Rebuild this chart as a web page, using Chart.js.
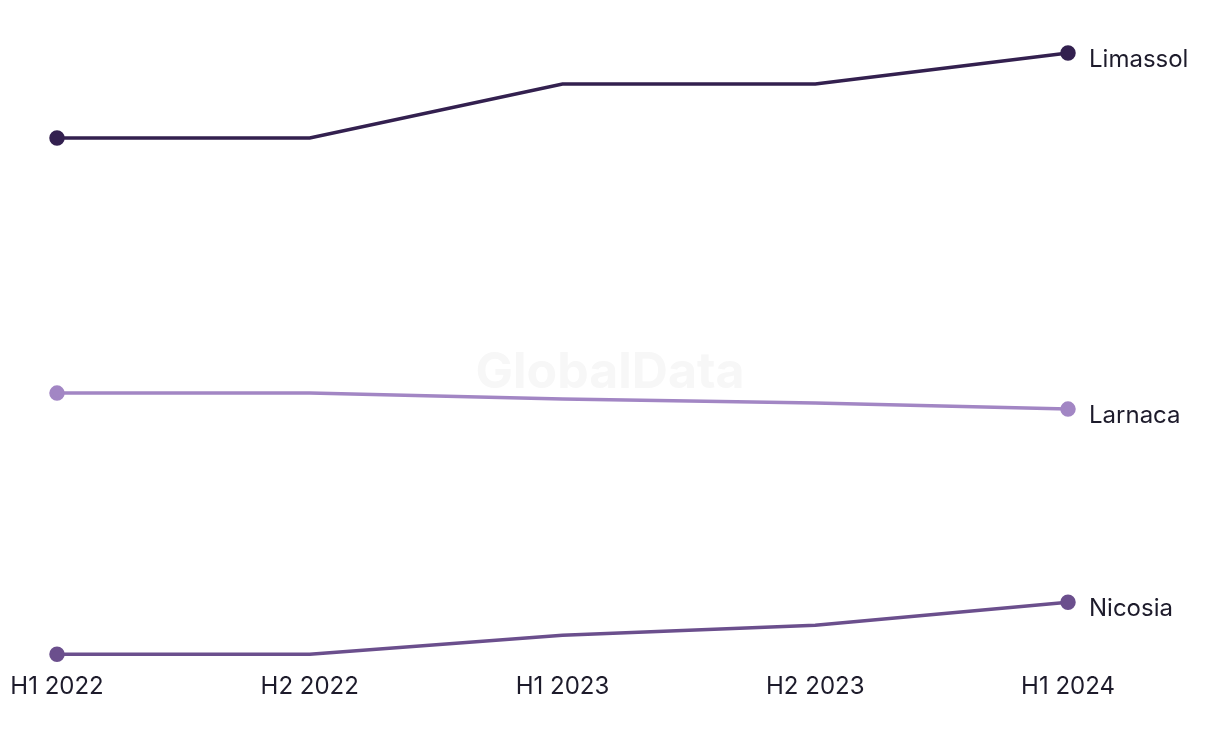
<!DOCTYPE html>
<html lang="en">
  <head>
    <meta charset="UTF-8" />
    <title>Cyprus cities</title>
    <script src="https://cdn.jsdelivr.net/npm/chart.js"></script>
    <style>
      body { margin: 0; background: #fff; }
      #wrap { width: 1220px; height: 744px; }
    </style>
  </head>
  <body>
    <div id="wrap"><canvas id="cityChart" width="1220" height="744"></canvas></div>
    <script>
      // data (index units, axis hidden)
      const periods = ["H1 2022", "H2 2022", "H1 2023", "H2 2023", "H1 2024"];
      const cities = ["Limassol", "Larnaca", "Nicosia"];
      const limassol = [124.4, 124.4, 135.2, 135.2, 141.4];
      const larnaca = [73.4, 73.4, 72.2, 71.4, 70.2];
      const nicosia = [21.2, 21.2, 25.0, 27.0, 31.6];
      const colours = ["#33204f", "#a286c4", "#6b4f8d"];

      const seriesValues = [limassol, larnaca, nicosia];

      // draw the city name next to the last point
      const endLabels = {
        id: "endLabels",
        afterDatasetsDraw(chart) {
          const ctx = chart.ctx;
          ctx.save();
          ctx.font = "24px Inter";
          ctx.fillStyle = "#1d1b2b";
          ctx.textBaseline = "middle";
          chart.data.datasets.forEach((ds, i) => {
            const pts = chart.getDatasetMeta(i).data;
            const last = pts[pts.length - 1];
            ctx.fillText(ds.label, last.x + 21, last.y + 7);
          });
          ctx.restore();
        },
      };

      // faint watermark in the middle
      const watermark = {
        id: "watermark",
        beforeDatasetsDraw(chart) {
          const ctx = chart.ctx;
          ctx.save();
          ctx.font = "bold 50px Inter";
          ctx.fillStyle = "#f7f7f7";
          ctx.textAlign = "center";
          ctx.textBaseline = "middle";
          ctx.fillText("GlobalData", 610, 373);
          ctx.restore();
        },
      };

      const ctx = document.getElementById("cityChart").getContext("2d");
      new Chart(ctx, {
        type: "line",
        data: {
          labels: periods,
          datasets: cities.map((name, i) => ({
            label: name,
            data: seriesValues[i],
            borderColor: colours[i],
            backgroundColor: colours[i],
            borderWidth: 3.5,
            tension: 0,
            clip: false,
            pointRadius: [6, 0, 0, 0, 6],
            pointHoverRadius: 0,
          })),
        },
        options: {
          responsive: false,
          animation: false,
          layout: { padding: { top: 53, left: 57, right: 152, bottom: 25 } },
          plugins: {
            legend: { display: false },
            tooltip: { enabled: false },
          },
          scales: {
            x: {
              offset: false,
              grid: { display: false, drawTicks: false },
              border: { display: false },
              afterFit(scale) {
                // let the layout padding alone place the first/last points
                scale.paddingLeft = 0;
                scale.paddingRight = 0;
              },
              ticks: {
                color: "#1d1b2b",
                font: { family: "Inter", size: 24 },
                padding: 18,
                maxRotation: 0,
              },
            },
            y: {
              display: false,
              min: 21.2,
              max: 141.4,
            },
          },
        },
        plugins: [watermark, endLabels],
      });
    </script>
  </body>
</html>
